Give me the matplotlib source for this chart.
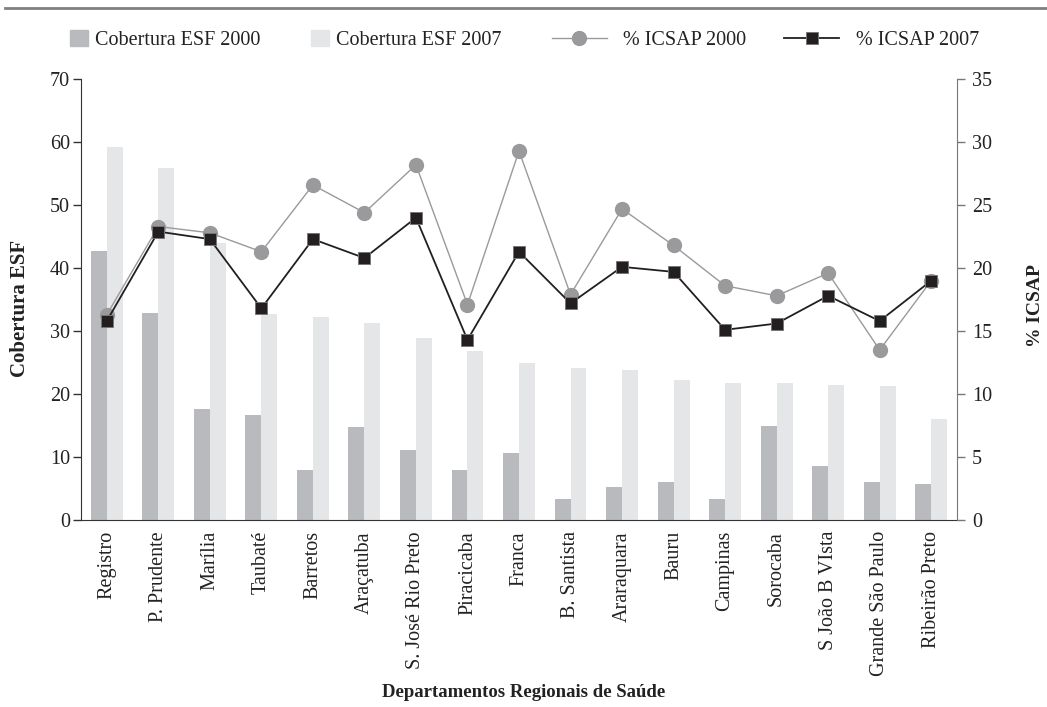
import numpy as np
import matplotlib
matplotlib.use('Agg')
import matplotlib.pyplot as plt
from matplotlib.lines import Line2D
from matplotlib.patches import Patch

plt.rcParams['font.family'] = ['Liberation Serif', 'DejaVu Serif']

# Data
regions = ['Registro', 'P. Prudente', 'Marília', 'Taubaté', 'Barretos',
           'Araçatuba', 'S. José Rio Preto', 'Piracicaba', 'Franca',
           'B. Santista', 'Araraquara', 'Bauru', 'Campinas', 'Sorocaba',
           'S João B VIsta', 'Grande São Paulo', 'Ribeirão Preto']
esf_2000 = [42.7, 32.9, 17.6, 16.7, 7.9, 14.8, 11.1, 7.9, 10.6,
            3.3, 5.2, 6.0, 3.3, 14.9, 8.6, 6.0, 5.7]
esf_2007 = [59.2, 55.9, 44.0, 32.7, 32.2, 31.3, 28.9, 26.8, 24.9,
            24.1, 23.8, 22.2, 21.7, 21.7, 21.4, 21.3, 16.0]
icsap_2000 = [16.3, 23.3, 22.8, 21.3, 26.6, 24.4, 28.2, 17.1, 29.3,
              17.9, 24.7, 21.8, 18.6, 17.8, 19.6, 13.5, 19.0]
icsap_2007 = [15.8, 22.9, 22.3, 16.8, 22.3, 20.8, 24.0, 14.3, 21.3,
              17.2, 20.1, 19.7, 15.1, 15.6, 17.8, 15.8, 19.0]

c_dark = '#b9babd'
c_light = '#e5e6e8'
c_line00 = '#9a9a9c'
c_line07 = '#231f20'
c_text = '#222222'
fs = 14.5

fig = plt.figure(figsize=(10.47, 7.07), dpi=100)
ax = fig.add_axes([0.0774, 0.2645, 0.8366, 0.6235])
ax2 = ax.twinx()

x = np.arange(len(regions))
w = 0.31
ax.bar(x - w / 2, esf_2000, width=w, color=c_dark, linewidth=0)
ax.bar(x + w / 2, esf_2007, width=w, color=c_light, linewidth=0)

ax2.plot(x, icsap_2000, color=c_line00, lw=1.0, marker='o', ms=10,
         mfc=c_line00, mec=c_line00)
ax2.plot(x, icsap_2007, color=c_line07, lw=1.3, marker='s', ms=9,
         mfc=c_line07, mec='#777777', mew=0.7)

ax.set_xlim(-0.5, len(regions) - 0.5)
ax.set_ylim(0, 70)
ax.set_yticks(np.arange(0, 71, 10))
ax2.set_ylim(0, 35)
ax2.set_yticks(np.arange(0, 36, 5))

ax.set_xticks(x)
ax.set_xticklabels(regions, rotation=90, fontsize=fs, color=c_text)
ax.tick_params(axis='x', length=0, pad=8)
ax.tick_params(axis='y', direction='out', length=6, width=1, pad=2,
               labelsize=fs, colors='#333333', labelcolor=c_text)
ax2.tick_params(axis='y', direction='out', length=6, width=1, pad=5,
                labelsize=fs, colors='#777777', labelcolor=c_text)

for a in (ax, ax2):
    a.spines['top'].set_visible(False)
ax.spines['left'].set_color('#333333')
ax.spines['bottom'].set_color('#333333')
ax.spines['right'].set_visible(False)
ax2.spines['left'].set_visible(False)
ax2.spines['bottom'].set_visible(False)
ax2.spines['right'].set_color('#777777')

# axis titles
fig.text(20 / 1047, 1 - 308 / 707, 'Cobertura ESF', rotation=90,
         ha='center', va='center', fontsize=15, fontweight='bold',
         color=c_text)
fig.text(1036 / 1047, 1 - 306 / 707, '% ICSAP', rotation=90,
         ha='center', va='center', fontsize=14, fontweight='bold',
         color=c_text)
fig.text(0.5, 0.0135, 'Departamentos Regionais de Saúde', ha='center',
         fontsize=13.5, fontweight='bold', color=c_text)

# top rule
fig.add_artist(Line2D([0.005, 1.0], [0.988, 0.988], color='#808080', lw=2))

# legends: bars and lines placed separately
bar_handles = [Patch(color=c_dark), Patch(color=c_light)]
leg1 = fig.legend(bar_handles, ['Cobertura ESF 2000', 'Cobertura ESF 2007'],
                  loc='center left', bbox_to_anchor=(0.0669, 0.943), ncol=2,
                  frameon=False, fontsize=fs, borderpad=0, borderaxespad=0,
                  handlelength=0.9, handleheight=0.8, handletextpad=0.35,
                  columnspacing=2.5, labelcolor=c_text)
line_handles = [Line2D([0], [0], color=c_line00, lw=1.0, marker='o', ms=10,
                       mfc=c_line00, mec=c_line00),
                Line2D([0], [0], color=c_line07, lw=1.3, marker='s', ms=9,
                       mfc=c_line07, mec='#777777', mew=0.7)]
leg2 = fig.legend(line_handles, ['% ICSAP 2000', '% ICSAP 2007'],
                  loc='center left', bbox_to_anchor=(0.5272, 0.943), ncol=2,
                  frameon=False, fontsize=fs, borderpad=0, borderaxespad=0,
                  handlelength=2.73, handletextpad=0.8, columnspacing=1.9,
                  labelcolor=c_text)

fig.savefig('out.png', dpi=100)
